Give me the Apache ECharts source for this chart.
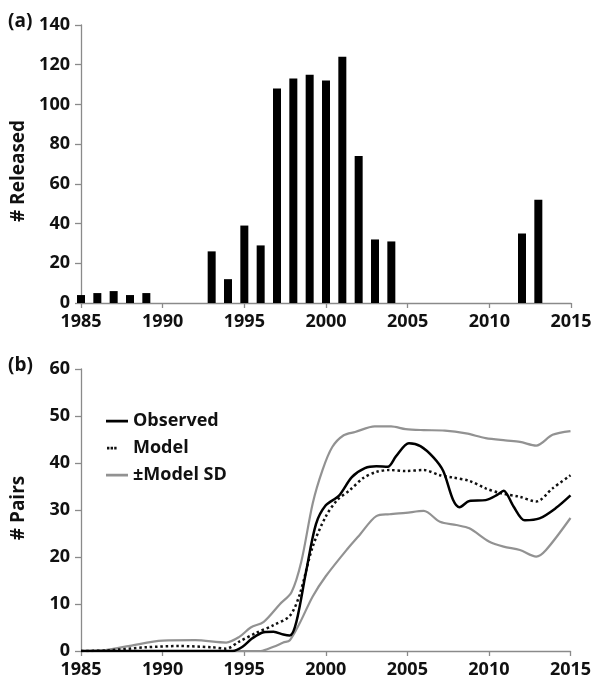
<!DOCTYPE html>
<html>
<head>
<meta charset="utf-8">
<script src="https://cdn.jsdelivr.net/npm/echarts@6/dist/echarts.min.js"></script>
<style>html,body{margin:0;padding:0;background:#fff;}#c{width:596px;height:684px;}</style>
</head>
<body>
<div id="c"></div>
<script>
// Panel (a): releases per year
const releaseYears = [1985,1986,1987,1988,1989,1993,1994,1995,1996,1997,1998,1999,2000,2001,2002,2003,2004,2012,2013];
const releaseCounts = [4,5,6,4,5,26,12,39,29,108,113,115,112,124,74,32,31,35,52];
const xTicksA = [1985,1990,1995,2000,2005,2010,2015];
const yTicksA = [0,20,40,60,80,100,120,140];

// Panel (b): number of pairs, [year, value]
const observed = [[1985,0],[1994.3,0],[1994.9,0.9],[1995.5,2.7],[1996.2,4.0],[1996.8,4.1],[1997.4,3.5],[1997.8,3.3],[1998.2,6.2],[1998.8,17],[1999.4,27],[2000.0,31],[2000.8,33],[2001.6,37],[2002.4,38.9],[2003.1,39.3],[2003.8,39.2],[2004.3,41.4],[2005.1,44.2],[2005.8,43.6],[2006.6,41.2],[2007.2,38.3],[2007.8,32.2],[2008.2,30.6],[2008.8,31.9],[2009.8,32.1],[2010.5,33.2],[2010.9,34.1],[2011.5,30.8],[2012.2,27.8],[2013.1,28.2],[2014.1,30.4],[2015,33.1]];
const model = [[1985,0],[1986.5,0.1],[1989,0.8],[1991,1.05],[1993,0.8],[1993.9,0.5],[1994.7,2.0],[1995.7,3.8],[1996.8,5.5],[1997.8,7.5],[1998.4,12],[1999.2,22.2],[2000.0,28.6],[2000.7,32.1],[2001.5,34.3],[2002.3,36.8],[2003.1,38.1],[2003.9,38.5],[2004.9,38.3],[2006,38.5],[2007,37.4],[2007.8,36.9],[2008.8,36.2],[2009.8,34.6],[2010.7,33.6],[2011.9,32.8],[2012.9,31.8],[2013.9,34.6],[2015,37.4]];
const modelUpper = [[1985,0],[1986.5,0.2],[1988,1.1],[1990,2.2],[1992,2.3],[1993.9,1.8],[1994.7,3.0],[1995.4,5.0],[1996.2,6.2],[1997.2,10],[1997.9,12.5],[1998.5,19],[1999.2,31.4],[1999.8,38.5],[2000.4,43.4],[2001.1,45.9],[2001.8,46.6],[2003.0,47.8],[2004.0,47.8],[2004.9,47.2],[2006,47.0],[2007.3,46.9],[2008.6,46.3],[2009.8,45.3],[2011,44.8],[2011.9,44.5],[2012.9,43.7],[2013.9,46],[2015,46.8]];
const modelLower = [[1985,0],[1996,0],[1996.8,0.9],[1997.4,1.8],[1997.8,2.3],[1998.4,5.9],[1999.2,11.6],[2000.0,15.9],[2001.3,21.6],[2002.1,24.8],[2003.1,28.7],[2003.9,29.1],[2004.9,29.4],[2006,29.8],[2007,27.5],[2008,26.8],[2008.8,26.1],[2010,23.3],[2010.9,22.2],[2011.9,21.5],[2012.9,20.1],[2013.5,21.5],[2015,28.3]];
const yTicksB = [0,10,20,30,40,50,60];

const FONT = 'Open Sans';
const axisColor = '#8a8a8a';
const labelStyle = {fontFamily: FONT, fontWeight: 'bold', fontSize: 18, color: '#111'};

const chart = echarts.init(document.getElementById('c'), null, {renderer: 'canvas'});
const xAxisCommon = {
  type: 'value', min: 1985, max: 2015, interval: 5,
  axisLine: {show: true, lineStyle: {color: axisColor, width: 1.3}},
  axisTick: {show: true, inside: false, length: 5, lineStyle: {color: axisColor, width: 1.3}},
  splitLine: {show: false},
  axisLabel: Object.assign({margin: 10, formatter: v => String(v)}, labelStyle)
};
const yAxisCommon = {
  type: 'value', min: 0,
  axisLine: {show: true, lineStyle: {color: axisColor, width: 1.3}},
  axisTick: {show: true, inside: false, length: 6, lineStyle: {color: axisColor, width: 1.3}},
  splitLine: {show: false},
  axisLabel: Object.assign({margin: 11}, labelStyle)
};

const solidIcon = 'path://M0,0h0.01v0.01h-0.01zM21.99,13.99h0.01v0.01h-0.01zM0,5.8h22v2.6h-22z';
const dotIcon = 'path://M0,0h0.01v0.01h-0.01zM21.99,13.99h0.01v0.01h-0.01zM1,5.8h2.4v2.6h-2.4zM4.6,5.8h2.4v2.6h-2.4zM8.2,5.8h2.4v2.6h-2.4z';

chart.setOption({
  animation: false,
  backgroundColor: '#fff',
  grid: [
    {left: 81, right: 25, top: 25, bottom: 381},
    {left: 81, right: 25.5, top: 369, bottom: 33}
  ],
  xAxis: [
    Object.assign({gridIndex: 0}, xAxisCommon),
    Object.assign({gridIndex: 1}, xAxisCommon)
  ],
  yAxis: [
    Object.assign({gridIndex: 0, max: yTicksA[yTicksA.length-1], interval: yTicksA[1]-yTicksA[0]}, yAxisCommon),
    Object.assign({gridIndex: 1, max: yTicksB[yTicksB.length-1], interval: yTicksB[1]-yTicksB[0]}, yAxisCommon)
  ],
  legend: {
    left: 106, top: 412, orient: 'vertical', padding: 0,
    itemWidth: 22, itemHeight: 14, itemGap: 9,
    itemStyle: {borderWidth: 0},
    lineStyle: {width: 0},
    textStyle: {fontFamily: FONT, fontWeight: 'bold', fontSize: 18, color: '#111'},
    data: [
      {name: 'Observed', icon: solidIcon},
      {name: 'Model', icon: dotIcon},
      {name: '±Model SD', icon: solidIcon}
    ]
  },
  graphic: [
    {type: 'text', left: 8, top: 12, style: {text: '(a)', font: 'bold 19px "Open Sans"', fill: '#111'}},
    {type: 'text', left: 8, top: 356, style: {text: '(b)', font: 'bold 19px "Open Sans"', fill: '#111'}},
    {type: 'text', x: 18.5, y: 171, rotation: Math.PI/2, style: {text: '# Released', font: 'bold 19px "Open Sans"', fill: '#111', align: 'center', verticalAlign: 'middle'}},
    {type: 'text', x: 18.5, y: 508, rotation: Math.PI/2, style: {text: '# Pairs', font: 'bold 19px "Open Sans"', fill: '#111', align: 'center', verticalAlign: 'middle'}}
  ],
  series: [
    {
      type: 'bar', xAxisIndex: 0, yAxisIndex: 0, barWidth: 8, clip: true,
      itemStyle: {color: '#000'},
      data: releaseYears.map((y, i) => [y, releaseCounts[i]])
    },
    {
      name: '±Model SD', type: 'line', xAxisIndex: 1, yAxisIndex: 1, smooth: 0.3,
      symbol: 'none', lineStyle: {color: '#929292', width: 2.2}, itemStyle: {color: '#929292'},
      data: modelUpper, z: 2
    },
    {
      name: '±Model SD', type: 'line', xAxisIndex: 1, yAxisIndex: 1, smooth: 0.3,
      symbol: 'none', lineStyle: {color: '#929292', width: 2.2}, itemStyle: {color: '#929292'},
      data: modelLower, z: 2
    },
    {
      name: 'Model', type: 'line', xAxisIndex: 1, yAxisIndex: 1, smooth: 0.3,
      symbol: 'none', lineStyle: {color: '#111', width: 2.5, type: [2.5, 2.8], cap: 'butt'}, itemStyle: {color: '#111'},
      data: model, z: 3
    },
    {
      name: 'Observed', type: 'line', xAxisIndex: 1, yAxisIndex: 1, smooth: 0.3,
      symbol: 'none', lineStyle: {color: '#000', width: 2.5}, itemStyle: {color: '#000'},
      data: observed, z: 4
    }
  ]
});
</script>
</body>
</html>
